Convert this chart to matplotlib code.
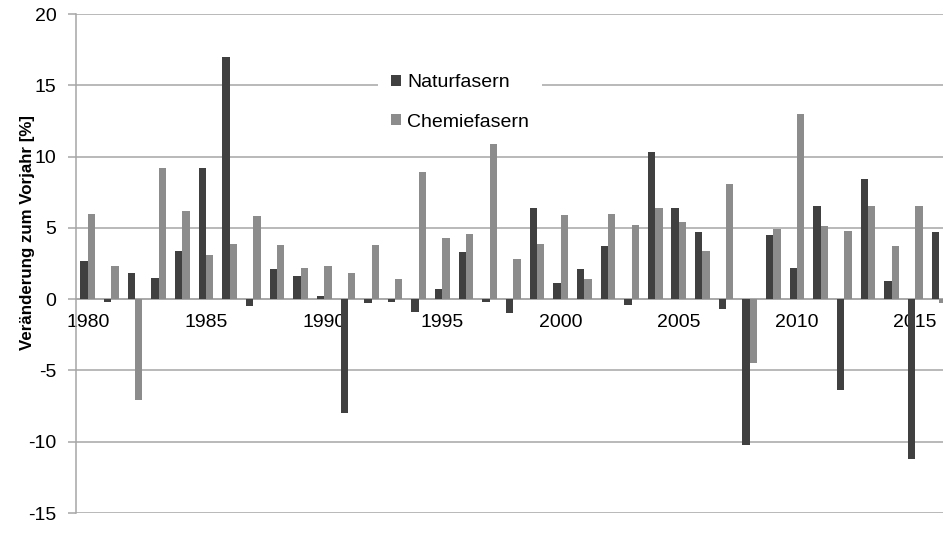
import numpy as np
import matplotlib.pyplot as plt

plt.rcParams['font.family'] = ['Liberation Sans', 'DejaVu Sans']
plt.rcParams['axes.unicode_minus'] = False

# Jahre und Veränderung zum Vorjahr in %
years = list(range(1980, 2017))
natur = [2.7, -0.2, 1.8, 1.5, 3.4, 9.2, 17.0, -0.5, 2.1, 1.6, 0.2, -8.0,
         -0.3, -0.2, -0.9, 0.7, 3.3, -0.2, -1.0, 6.4, 1.1, 2.1, 3.7, -0.4,
         10.3, 6.4, 4.7, -0.7, -10.2, 4.5, 2.2, 6.5, -6.4, 8.4, 1.3, -11.2, 4.7]
chemie = [6.0, 2.3, -7.1, 9.2, 6.2, 3.1, 3.9, 5.8, 3.8, 2.2, 2.3, 1.8,
          3.8, 1.4, 8.9, 4.3, 4.6, 11.5, 2.8, 3.9, 5.9, 1.4, 6.0, 5.2,
          6.4, 5.4, 3.4, 8.1, -4.5, 4.9, 13.0, 5.1, 4.8, 6.5, 3.7, 6.5, -0.3]
tick_years = [1980, 1985, 1990, 1995, 2000, 2005, 2010, 2015]

W, H = 943, 549
fig = plt.figure(figsize=(W / 100, H / 100), dpi=100)
ax = fig.add_axes([76 / W, 1 - 513 / H, 1 - 76 / W, (513 - 14) / H])

x = np.arange(len(years))
bw = 0.31
ax.bar(x - bw / 2, natur, bw, color='#404040', label='Naturfasern', zorder=3)
ax.bar(x + bw / 2, chemie, bw, color='#8c8c8c', label='Chemiefasern', zorder=3)

ax.set_xlim(-0.5, (W - 76) / 23.64 - 0.5)
ax.set_ylim(-15, 20)
ax.set_yticks(np.arange(-15, 21, 5))
ax.yaxis.grid(True, color='#a6a6a6', linewidth=1.1, zorder=0)
ax.set_axisbelow(True)

for s in ['top', 'right']:
    ax.spines[s].set_visible(False)
ax.spines['left'].set_color('#a6a6a6')
ax.spines['left'].set_linewidth(1.1)
ax.spines['bottom'].set_position(('data', 0))
ax.spines['bottom'].set_color('#a6a6a6')
ax.spines['bottom'].set_linewidth(1.1)

ax.set_xticks([years.index(y) for y in tick_years])
ax.set_xticklabels([str(y) for y in tick_years])
ax.tick_params(axis='x', length=0, pad=11, labelsize=14)
ax.tick_params(axis='y', length=6, color='#a6a6a6', width=1.1, pad=8, labelsize=14)

ax.set_ylabel('Veränderung zum Vorjahr [%]', fontsize=12.2, fontweight='bold')
ax.yaxis.set_label_coords(-0.047, 0.563)

leg = ax.legend(loc='upper left', bbox_to_anchor=(368 / W, 1 - 51 / H),
                bbox_transform=fig.transFigure, fontsize=14, frameon=True,
                fancybox=False, borderpad=0.7, labelspacing=1.15,
                handlelength=0.5, handleheight=0.5, handletextpad=0.3)
leg.get_frame().set_facecolor('white')
leg.get_frame().set_edgecolor('none')
leg.get_frame().set_alpha(1)

fig.savefig('out.png', dpi=100)
